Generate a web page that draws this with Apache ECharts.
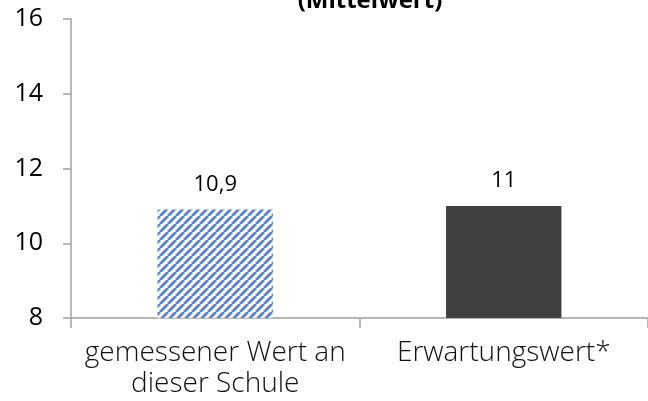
<!DOCTYPE html>
<html><head><meta charset="utf-8">
<script src="https://cdn.jsdelivr.net/npm/echarts@6/dist/echarts.min.js"></script>
<style>html,body{margin:0;padding:0;background:#fff}#c{width:648px;height:401px}</style>
</head><body><div id="c"></div>
<script>
const categories = ['gemessener Wert an\ndieser Schule', 'Erwartungswert*'];
const values = [10.9, 11];
const yTicks = [8, 10, 12, 14, 16];

function stripes() {
  const c = document.createElement('canvas');
  c.width = 8; c.height = 8;
  const g = c.getContext('2d');
  g.fillStyle = '#ffffff'; g.fillRect(0, 0, 8, 8);
  g.strokeStyle = '#5a85d1'; g.lineWidth = 3;
  for (let k = -16; k <= 16; k += 8) {
    g.beginPath(); g.moveTo(k, 8); g.lineTo(k + 8, 0); g.stroke();
  }
  return c;
}
const fills = [{ image: stripes(), repeat: 'repeat' }, '#404040'];

const chart = echarts.init(document.getElementById('c'));
chart.setOption({
  animation: false,
  title: { text: '(Mittelwert)', left: 365, top: -16, textAlign: 'center',
    textStyle: { fontFamily: 'Open Sans', fontWeight: 'bold', fontSize: 24, color: '#000' } },
  grid: { left: 71, right: -10, top: 19, bottom: 83, containLabel: false },
  xAxis: {
    type: 'category', data: categories,
    axisLine: { lineStyle: { color: '#a0a0a0', width: 1.5 } },
    axisTick: { show: true, length: 10, lineStyle: { color: '#a0a0a0', width: 1.5 } },
    axisLabel: { interval: 0, hideOverlap: false, fontFamily: 'Open Sans', fontWeight: 300, fontSize: 28, color: '#111', lineHeight: 31, margin: 20 }
  },
  yAxis: {
    type: 'value', min: yTicks[0], max: yTicks[yTicks.length - 1], interval: 2,
    splitLine: { show: false },
    axisLine: { show: true, lineStyle: { color: '#a0a0a0', width: 1.5 } },
    axisTick: { show: true, length: 8, lineStyle: { color: '#a0a0a0', width: 1.5 } },
    axisLabel: { fontFamily: 'Open Sans', fontSize: 25, color: '#000', margin: 28 }
  },
  series: [{
    type: 'bar', barWidth: '40%',
    data: values.map((v, i) => ({ value: v, itemStyle: { color: fills[i] } })),
    label: { show: true, position: 'top', distance: 14, fontFamily: 'Open Sans', fontSize: 22, color: '#000',
      formatter: p => String(p.value).replace('.', ',') }
  }]
});
</script></body></html>
